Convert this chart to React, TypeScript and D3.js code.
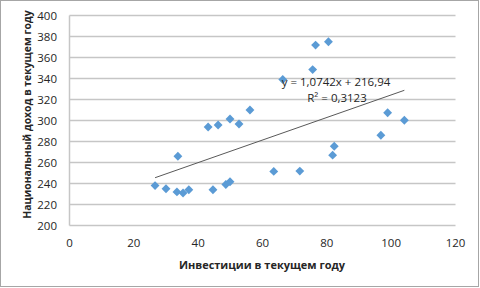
import React from "react";
import * as d3 from "d3";

const investments = [26.6, 30.0, 33.4, 35.3, 37.1, 33.7, 44.6, 48.6, 49.9, 43.1, 46.2, 49.9, 52.7, 56.1,
  66.3, 76.5, 80.5, 75.6, 98.9, 104.1, 96.8, 82.3, 81.8, 63.5, 71.6];
const income = [238, 235, 232, 231, 234, 266, 234, 239, 241.7, 293.8, 295.7, 301.4, 296.7, 310,
  339, 371.8, 375, 348.5, 307.4, 300.2, 286, 275.5, 267, 251.5, 251.8];
const xTicks = [0, 20, 40, 60, 80, 100, 120];
const yTicks = [200, 220, 240, 260, 280, 300, 320, 340, 360, 380, 400];
const trendSlope = 1.0742;
const trendIntercept = 216.94;
const trendLabel = "y = 1,0742x + 216,94";
const r2Label = "R² = 0,3123";
const xTitle = "Инвестиции в текущем году";
const yTitle = "Национальный доход в текущем году";

const W = 480;
const H = 288;
const FONT = "'Open Sans', 'Liberation Sans', sans-serif";

export default function App() {
  const x = d3.scaleLinear().domain([0, 120]).range([69.5, 455.5]);
  const y = d3.scaleLinear().domain([200, 400]).range([225.5, 15.5]);
  const diamond = d3.symbol().type(d3.symbolDiamond2).size(50)();
  const xMin = d3.min(investments) as number;
  const xMax = d3.max(investments) as number;
  const line = d3.line<number>().x((d) => x(d)).y((d) => y(trendIntercept + trendSlope * d));

  return (
    <svg width={W} height={H} style={{ position: "absolute", left: 0, top: 0, display: "block" }}>
      <rect x={0.5} y={0.5} width={478} height={286} fill="#fff" stroke="#a6a6a6" strokeWidth={1} />
      {yTicks.map((t) => (
        <line key={"g" + t} x1={x(0)} x2={x(120)} y1={y(t)} y2={y(t)} stroke="#c6c6c6" strokeWidth={1.5} />
      ))}
      <line x1={x(0)} x2={x(0)} y1={y(400)} y2={y(200)} stroke="#c6c6c6" strokeWidth={1.5} />
      {yTicks.map((t) => (
        <text key={"yt" + t} x={57} y={y(t)} dy="0.35em" textAnchor="end" fontFamily={FONT} fontSize={11.5} fill="#262626">
          {t}
        </text>
      ))}
      {xTicks.map((t) => (
        <text key={"xt" + t} x={x(t)} y={243} dy="0.35em" textAnchor="middle" fontFamily={FONT} fontSize={11.5} fill="#262626">
          {t}
        </text>
      ))}
      <path d={line([xMin, xMax]) || ""} fill="none" stroke="#595959" strokeWidth={1} />
      {investments.map((v, i) => (
        <path key={"p" + i} d={diamond} transform={`translate(${x(v)},${y(income[i])})`} fill="#5b9bd5" />
      ))}
      <text x={336} y={82} dy="0.35em" textAnchor="middle" fontFamily={FONT} fontSize={11.5} fill="#262626">
        {trendLabel}
      </text>
      <text x={337} y={98} dy="0.35em" textAnchor="middle" fontFamily={FONT} fontSize={11.5} fill="#262626">
        {r2Label}
      </text>
      <text x={262} y={265} dy="0.35em" textAnchor="middle" fontFamily={FONT} fontSize={11} fontWeight="bold" fill="#262626">
        {xTitle}
      </text>
      <text transform={`translate(27,114.5) rotate(-90)`} dy="0.35em" textAnchor="middle" fontFamily={FONT} fontSize={10.4} fontWeight="bold" fill="#262626">
        {yTitle}
      </text>
    </svg>
  );
}
